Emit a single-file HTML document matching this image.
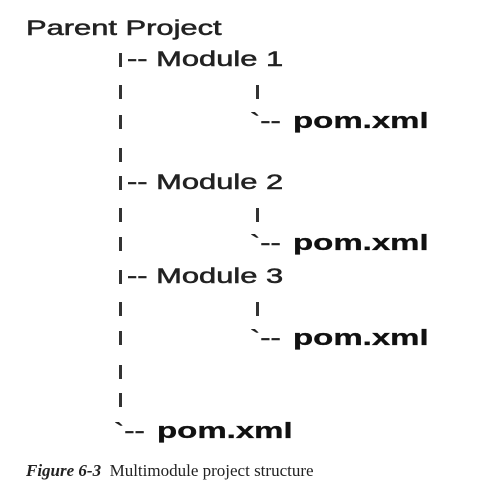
<!DOCTYPE html>
<html><head><style>
body{margin:0;width:495px;height:495px;background:#fff;position:relative;overflow:hidden;font-family:"Liberation Sans",sans-serif;color:#222}
.t{position:absolute;white-space:nowrap;font-size:21px;line-height:24px;transform-origin:0 50%;transform:scaleX(1.47);-webkit-text-stroke:0.5px #222}
.b{font-weight:bold;font-size:22px;transform:scaleX(1.5);color:#111;-webkit-text-stroke:0.3px #111}
.bar{position:absolute;width:3px;height:14px;background:#333}
.cap{position:absolute;left:26px;top:461px;font-family:"Liberation Serif",serif;font-size:17px;white-space:nowrap;color:#222}
</style></head><body>
<div class="t" style="left:26px;top:17px">Parent Project</div>

<div class="bar" style="left:119px;top:53px"></div><div class="t" style="left:127px;top:48px">-- Module 1</div>
<div class="bar" style="left:119px;top:85px"></div><div class="bar" style="left:256px;top:85px"></div>
<div class="bar" style="left:119px;top:115px"></div><div class="t" style="left:250px;top:110px">`--</div><div class="t b" style="left:293px;top:109px">pom.xml</div>
<div class="bar" style="left:119px;top:148px"></div>

<div class="bar" style="left:119px;top:176px"></div><div class="t" style="left:127px;top:171px">-- Module 2</div>
<div class="bar" style="left:119px;top:208px"></div><div class="bar" style="left:256px;top:208px"></div>
<div class="bar" style="left:119px;top:237px"></div><div class="t" style="left:250px;top:232px">`--</div><div class="t b" style="left:293px;top:231px">pom.xml</div>

<div class="bar" style="left:119px;top:270px"></div><div class="t" style="left:127px;top:265px">-- Module 3</div>
<div class="bar" style="left:119px;top:302px"></div><div class="bar" style="left:256px;top:302px"></div>
<div class="bar" style="left:119px;top:331px"></div><div class="t" style="left:250px;top:327px">`--</div><div class="t b" style="left:293px;top:326px">pom.xml</div>
<div class="bar" style="left:119px;top:365px"></div>
<div class="bar" style="left:119px;top:393px"></div>
<div class="t" style="left:114px;top:420px">`--</div><div class="t b" style="left:157px;top:419px">pom.xml</div>

<div class="cap"><b><i>Figure 6-3</i></b>&nbsp;&nbsp;Multimodule project structure</div>
</body></html>
